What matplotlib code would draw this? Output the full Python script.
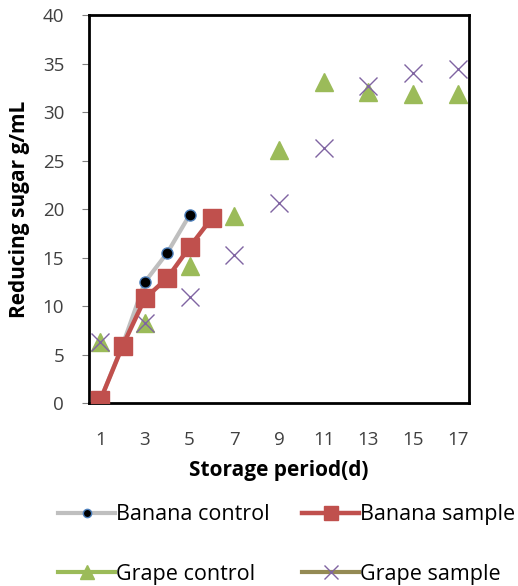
import numpy as np
import matplotlib
matplotlib.use("Agg")
import matplotlib.pyplot as plt

plt.rcParams['font.family'] = ['Open Sans', 'DejaVu Sans']

# Storage days (categories)
days = list(range(1, 18))
nan = np.nan

banana_control = [0.3, 6.0, 12.5, 15.5, 19.4] + [nan] * 12
banana_sample = [0.3, 5.9, 10.8, 12.9, 16.1, 19.1] + [nan] * 11
grape_control = [6.3, nan, 8.3, nan, 14.1, nan, 19.3, nan, 26.1, nan,
                 33.1, nan, 32.1, nan, 31.9, nan, 31.9]
grape_sample = [6.3, nan, 8.3, nan, 10.9, nan, 15.3, nan, 20.6, nan,
                26.3, nan, 32.7, nan, 34.0, nan, 34.5]

x_labels = ['1', '3', '5', '7', '9', '11', '13', '15', '17']

fig = plt.figure(figsize=(5.18, 5.86), dpi=100)
ax = fig.add_axes([0.172, 0.312, 0.733, 0.662])

l1, = ax.plot(days, banana_control, color='#BFBFBF', lw=3, marker='o', ms=8,
              mfc='black', mec='#4F81BD', mew=1, label='Banana control', zorder=3)
l2, = ax.plot(days, banana_sample, color='#C0504D', lw=3.2, marker='s', ms=13,
              mfc='#C0504D', mec='#C0504D', label='Banana sample', zorder=4)
l3, = ax.plot(days, grape_control, color='#9BBB59', lw=3, marker='^', ms=13,
              mfc='#9BBB59', mec='#9BBB59', label='Grape control', zorder=2)
l4, = ax.plot(days, grape_sample, color='#948A54', lw=3, marker='x', ms=13,
              mec='#8064A2', mew=1, label='Grape sample', zorder=2)

ax.set_xlim(0.5, 17.5)
ax.set_ylim(0, 40)
ax.set_yticks(range(0, 41, 5))
ax.set_xticks(range(1, 18, 2))
ax.set_xticklabels(x_labels)
ax.tick_params(axis='y', direction='out', length=5, color='#808080',
               labelsize=13.5, labelcolor='#404040', pad=13)
ax.tick_params(axis='x', length=0, labelsize=13.5, labelcolor='#404040', pad=20)
for s in ax.spines.values():
    s.set_linewidth(2)
    s.set_color('black')

ax.set_ylabel('Reducing sugar g/mL', fontsize=15, fontweight='bold', labelpad=9)
ax.set_xlabel('Storage period(d)', fontsize=15, fontweight='bold', labelpad=8)

fig.legend([l1, l3, l2, l4],
           ['Banana control', 'Grape control', 'Banana sample', 'Grape sample'],
           ncol=2, loc='lower left', bbox_to_anchor=(58 / 518, 1 / 586),
           frameon=False, borderpad=0, borderaxespad=0,
           fontsize=15.5, handlelength=2.65, handletextpad=0.05, columnspacing=1.5,
           labelspacing=1.8, numpoints=1, markerscale=0.75)

fig.savefig('out.png', dpi=100)
